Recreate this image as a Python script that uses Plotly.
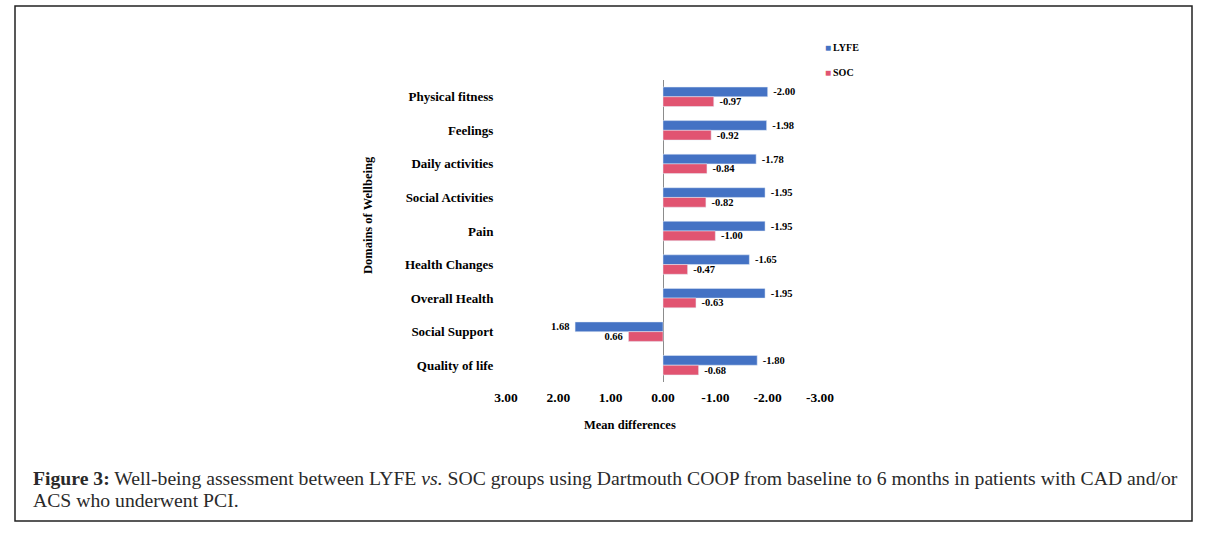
import plotly.graph_objects as go

categories = ["Physical fitness", "Feelings", "Daily activities", "Social Activities", "Pain",
              "Health Changes", "Overall Health", "Social Support", "Quality of life"]
lyfe = [-2.00, -1.98, -1.78, -1.95, -1.95, -1.65, -1.95, 1.68, -1.80]
soc = [-0.97, -0.92, -0.84, -0.82, -1.00, -0.47, -0.63, 0.66, -0.68]
tick_vals = [3, 2, 1, 0, -1, -2, -3]
tick_text = ["3.00", "2.00", "1.00", "0.00", "-1.00", "-2.00", "-3.00"]

BLUE = "#4472C4"
PINK = "#E15471"
W, H = 1208, 534
L, R, T, B = 506, 820, 80, 382  # plot area pixels


def px(x):
    return (x - L) / (R - L)


def py(y):
    return (B - y) / (B - T)


def label(v):
    s = f"{v:.2f}"
    return "\u00a0" + s if v < 0 else s + "\u00a0"


lab_font = dict(family="Liberation Serif", size=10.5, color="black", weight="bold")

fig = go.Figure()
fig.add_trace(go.Bar(
    y=categories, x=lyfe, name="LYFE", orientation="h", marker_color=BLUE,
    text=[label(v) for v in lyfe], textposition="outside", constraintext="none",
    cliponaxis=False, textfont=lab_font, showlegend=False,
))
fig.add_trace(go.Bar(
    y=categories, x=soc, name="SOC", orientation="h", marker_color=PINK,
    text=[label(v) for v in soc], textposition="outside", constraintext="none",
    cliponaxis=False, textfont=lab_font, showlegend=False,
))

fig.update_layout(
    width=W, height=H,
    margin=dict(l=L, r=W - R, t=T, b=H - B, pad=0),
    paper_bgcolor="white", plot_bgcolor="white",
    barmode="group", bargap=0.42, bargroupgap=0,
    font=dict(family="Liberation Serif", color="black"),
    xaxis=dict(range=[3, -3], tickvals=tick_vals, ticktext=tick_text, showgrid=False,
               zeroline=True, zerolinecolor="#8c8c8c", zerolinewidth=1.2, showline=False,
               ticks="outside", ticklen=3, tickcolor="rgba(0,0,0,0)",
               tickfont=dict(family="Liberation Serif", size=13.5, color="black", weight="bold")),
    yaxis=dict(autorange="reversed", showgrid=False, zeroline=False, showline=False,
               ticks="outside", ticklen=9, tickcolor="rgba(0,0,0,0)",
               tickfont=dict(family="Liberation Serif", size=13, color="black", weight="bold")),
    showlegend=False,
)

# outer frame
fig.add_shape(type="rect", xref="paper", yref="paper", x0=px(15), x1=px(1192), y0=py(521), y1=py(6),
              line=dict(color="#222222", width=1.5), fillcolor="rgba(0,0,0,0)")

# legend (manual)
for lbl, col, yy in [("LYFE", BLUE, 47), ("SOC", PINK, 72)]:
    fig.add_annotation(xref="paper", yref="paper", x=px(823), y=py(yy), xanchor="left", yanchor="middle",
                       text=f"<span style='color:{col}'>■</span>\u2009{lbl}", showarrow=False,
                       font=dict(family="Liberation Serif", size=10, color="black", weight="bold"))

# axis titles
fig.add_annotation(xref="paper", yref="paper", x=px(630), y=py(425), xanchor="center", yanchor="middle",
                   text="Mean differences", showarrow=False,
                   font=dict(family="Liberation Serif", size=12.5, color="black", weight="bold"))
fig.add_annotation(xref="paper", yref="paper", x=px(368), y=py(215), xanchor="center", yanchor="middle",
                   text="Domains of Wellbeing", showarrow=False, textangle=-90,
                   font=dict(family="Liberation Serif", size=12.5, color="black", weight="bold"))

# caption
cap_font = dict(family="Liberation Serif", size=19.7, color="#2a2a2a")
fig.add_annotation(xref="paper", yref="paper", x=px(31), y=py(478), xanchor="left", yanchor="middle",
                   showarrow=False, font=cap_font,
                   text="<b>Figure 3:</b> Well-being assessment between LYFE <i>vs.</i> SOC groups using Dartmouth COOP "
                        "from baseline to 6 months in patients with CAD and/or")
fig.add_annotation(xref="paper", yref="paper", x=px(31), y=py(500), xanchor="left", yanchor="middle",
                   showarrow=False, font=cap_font, text="ACS who underwent PCI.")

fig.write_html("out.html", config={"displayModeBar": False},
               post_script="document.body.style.margin='0px';")
